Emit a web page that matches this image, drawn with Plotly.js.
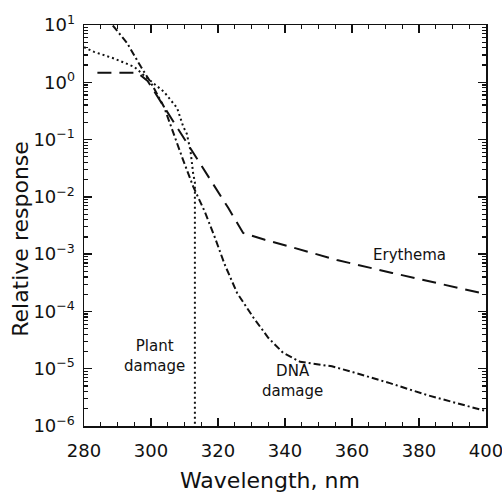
<!DOCTYPE html>
<html>
<head>
<meta charset="utf-8">
<script src="https://cdn.plot.ly/plotly-3.0.1.min.js"></script>
<style>
  html, body { margin: 0; padding: 0; background: #fff; }
  #chart { width: 502px; height: 493px; }
</style>
</head>
<body>
<div id="chart"></div>
<script>
// Action spectra: relative response vs wavelength (nm)
const erythemaWl  = [284, 296, 299, 303.3, 307.8, 310.7, 316, 323, 327.5, 334, 341.5, 355.5, 372, 400];
const erythemaVal = [1.47, 1.47, 1.05, 0.42, 0.166, 0.087, 0.028, 0.0065, 0.00234, 0.00178, 0.00135, 0.00079, 0.00047, 0.0002];

const dnaWl  = [288.6, 292.8, 297, 300, 303.9, 306.5, 309.6, 312.6, 316, 319, 322, 325.7, 330.7, 335, 339.4, 344.5, 350, 354, 360.3, 371.3, 382.4, 391, 400];
const dnaVal = [9.8, 4.9, 1.86, 0.98, 0.37, 0.138, 0.0437, 0.0151, 0.0056, 0.002, 0.00066, 0.00021, 7.6e-5, 3.47e-5, 1.9e-5, 1.32e-5, 1.2e-5, 1.1e-5, 8.7e-6, 5.6e-6, 3.47e-6, 2.5e-6, 1.82e-6];

const plantWl  = [280, 283, 289, 295, 298.8, 303.9, 307.8, 309.6, 310.7, 311.8, 312.6, 313.1, 313.1];
const plantVal = [4.1, 3.4, 2.6, 1.86, 1.19, 0.68, 0.355, 0.17, 0.126, 0.063, 0.025, 0.018, 1e-6];

const xTicks = [280, 300, 320, 340, 360, 380, 400];
const yTickVals = [1e-6, 1e-5, 1e-4, 1e-3, 1e-2, 1e-1, 1, 10];
const yTickText = ['10<sup>−6</sup>', '10<sup>−5</sup>', '10<sup>−4</sup>', '10<sup>−3</sup>',
                   '10<sup>−2</sup>', '10<sup>−1</sup>', '10<sup>0</sup>', '10<sup>1</sup>'];

// Curve labels: [text, wavelength, log10 response]
const labels = [
  ['Erythema', 377.3, -3.01],
  ['Plant<br>damage', 300.9, -4.78],
  ['DNA<br>damage', 342.1, -5.22]
];

const FONT = 'DejaVu Sans, sans-serif';

const traces = [
  { x: erythemaWl, y: erythemaVal, mode: 'lines', name: 'Erythema',
    line: { color: '#111', width: 2, dash: '14px,8px' } },
  { x: dnaWl, y: dnaVal, mode: 'lines', name: 'DNA damage',
    line: { color: '#111', width: 2, dash: '7px,3px,2px,3px' } },
  { x: plantWl, y: plantVal, mode: 'lines', name: 'Plant damage',
    line: { color: '#111', width: 2, dash: '2px,3px' } }
];

const axisCommon = {
  showgrid: false, zeroline: false, showline: true, linecolor: '#111', linewidth: 1.5,
  mirror: 'allticks', ticks: 'inside', ticklen: 8, tickwidth: 1.5, tickcolor: '#111',
  tickfont: { family: FONT, size: 18, color: '#111' }
};

const layout = {
  width: 502, height: 493,
  margin: { l: 84, r: 16, t: 25, b: 67 },
  paper_bgcolor: '#fff', plot_bgcolor: '#fff',
  showlegend: false,
  font: { family: FONT, color: '#111' },
  xaxis: Object.assign({}, axisCommon, {
    range: [280, 400], tickvals: xTicks, ticklabelstandoff: 8, ticklabeloverflow: 'allow',
    minor: { dtick: 5, ticks: 'inside', ticklen: 4, tickwidth: 1.2, tickcolor: '#111' }
  }),
  yaxis: Object.assign({}, axisCommon, {
    type: 'log', range: [-6, 1], tickvals: yTickVals, ticktext: yTickText, ticklabelstandoff: 4,
    minor: { dtick: 'D1', ticks: 'inside', ticklen: 4, tickwidth: 1.2, tickcolor: '#111' }
  }),
  annotations: labels.map(l => ({
    text: l[0], x: l[1], y: l[2], xref: 'x', yref: 'y', showarrow: false,
    font: { family: FONT, size: 15, color: '#111' }, align: 'center'
  })).concat([
    { text: 'Wavelength, nm', xref: 'paper', yref: 'paper', x: (270 - 84) / 402, y: -0.135,
      xanchor: 'center', yanchor: 'middle', showarrow: false,
      font: { family: FONT, size: 22, color: '#111' } },
    { text: 'Relative response', xref: 'paper', yref: 'paper', x: -0.16, y: 0.466,
      xanchor: 'center', yanchor: 'middle', textangle: -90, showarrow: false,
      font: { family: FONT, size: 22, color: '#111' } }
  ])
};

Plotly.newPlot('chart', traces, layout, { displayModeBar: false, staticPlot: true });
</script>
</body>
</html>
